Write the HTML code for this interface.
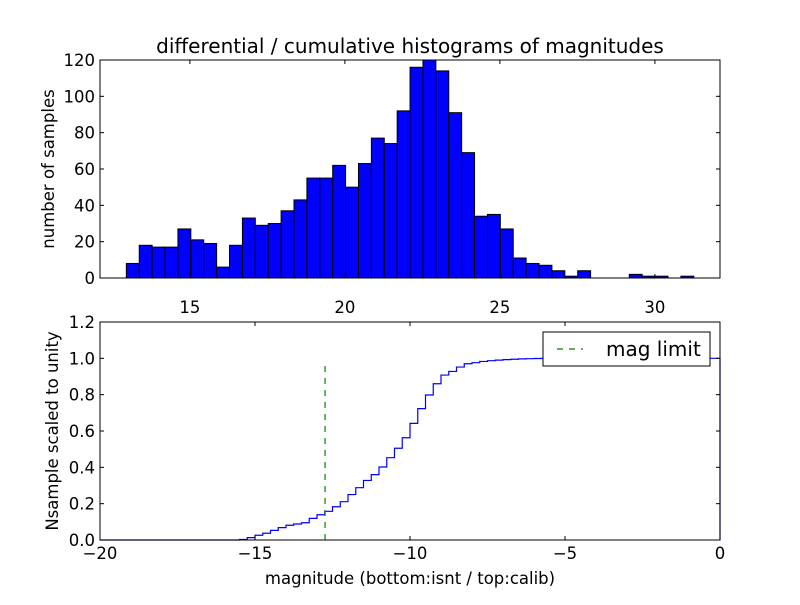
<!DOCTYPE html>
<html><head><meta charset="utf-8"><style>
body{margin:0;background:#fff;}
svg text{font-family:"DejaVu Sans","Liberation Sans",sans-serif;fill:#000;}
</style></head><body>
<svg id="c" width="800" height="600" xmlns="http://www.w3.org/2000/svg">
<rect width="800" height="600" fill="#fff"/>
</svg>
<script>
const histCounts=[8,18,17,17,27,21,19,6,18,33,29,30,37,43,55,55,62,50,63,77,74,92,116,120,114,91,69,34,35,27,11,8,7,4,1,4,0,0,0,2,1,1,0,1];
const histStart=12.95;
const histBinWidth=0.416;
const topXTicks=[15,20,25,30];
const topYTicks=[0,20,40,60,80,100,120];
const cumStart=-15.5;
const cumBinWidth=0.25;
const cumValues=[0.003,0.013,0.026,0.037,0.053,0.068,0.081,0.088,0.095,0.119,0.139,0.158,0.183,0.211,0.250,0.288,0.328,0.360,0.402,0.453,0.505,0.563,0.642,0.723,0.798,0.860,0.908,0.928,0.952,0.970,0.976,0.983,0.987,0.990,0.993,0.995,0.997,0.998,0.999,1.0];
const magLimit=-12.74;
const magLimitTop=0.97;
const botXTicks=[-20,-15,-10,-5,0];
const botYTicks=[0.0,0.2,0.4,0.6,0.8,1.0,1.2];

const NS='http://www.w3.org/2000/svg';
const svg=document.getElementById('c');
function mk(tag,attrs,parent){const e=document.createElementNS(NS,tag);for(const k in attrs)e.setAttribute(k,attrs[k]);(parent||svg).appendChild(e);return e;}
const L=100,R=720;
const tx=v=>L+(v-12.1)/(32.1-12.1)*(R-L);
const ty=v=>278-v/120*218;
const bx=v=>L+(v+20)/20*(R-L);
const by=v=>540-v/1.2*218;

const g1=mk('g',{});


histCounts.forEach((c,i)=>{
  const x0=tx(histStart+i*histBinWidth),x1=tx(histStart+(i+1)*histBinWidth);
  if(c<=0)return;
  const r=mk('rect',{x:x0,y:ty(c),width:x1-x0,height:ty(0)-ty(c),fill:'#0000ff',stroke:'#000','stroke-width':1},g1);
  
  
});
const f1=mk('rect',{x:L,y:60,width:R-L,height:218,fill:'none',stroke:'#000','stroke-width':1});


topXTicks.forEach(t=>{
  const x=tx(t);
  mk('line',{x1:x,x2:x,y1:278,y2:274,stroke:'#000'});
  mk('line',{x1:x,x2:x,y1:60,y2:64,stroke:'#000'});
  const e=mk('text',{x:x,y:313,'font-size':16.5,'text-anchor':'middle'});e.textContent=t;
  
  
});
topYTicks.forEach(t=>{
  const y=ty(t);
  mk('line',{x1:L,x2:L+4,y1:y,y2:y,stroke:'#000'});
  mk('line',{x1:R,x2:R-4,y1:y,y2:y,stroke:'#000'});
  const e=mk('text',{x:L-5,y:y+6,'font-size':16.5,'text-anchor':'end'});e.textContent=t;
  
  
});
let e=mk('text',{x:410,y:53,'font-size':20,'text-anchor':'middle'});e.textContent='differential / cumulative histograms of magnitudes';


e=mk('text',{x:0,y:0,'font-size':16.5,'text-anchor':'middle',transform:'translate(54,169) rotate(-90)'});e.textContent='number of samples';



let d='M'+bx(-20)+','+by(0)+' L'+bx(cumStart)+','+by(0);
cumValues.forEach((v,i)=>{
  const x0=bx(cumStart+i*cumBinWidth),x1=bx(cumStart+(i+1)*cumBinWidth);
  d+=' L'+x0+','+by(v)+' L'+x1+','+by(v);
});
d+=' L'+bx(0)+','+by(cumValues[cumValues.length-1])+' L'+bx(0)+','+by(0);
const p=mk('path',{d:d,fill:'none',stroke:'#0000ff','stroke-width':1.2});


const ml=mk('line',{x1:bx(magLimit),x2:bx(magLimit),y1:by(0),y2:by(magLimitTop),stroke:'#008000','stroke-width':1.2,'stroke-dasharray':'6,6'});


const f2=mk('rect',{x:L,y:322,width:R-L,height:218,fill:'none',stroke:'#000','stroke-width':1});


botXTicks.forEach(t=>{
  const x=bx(t);
  mk('line',{x1:x,x2:x,y1:540,y2:536,stroke:'#000'});
  mk('line',{x1:x,x2:x,y1:322,y2:326,stroke:'#000'});
  const e=mk('text',{x:x,y:559,'font-size':16.5,'text-anchor':'middle'});e.textContent=(t<0?'\u2212'+(-t):t);
  
  
});
botYTicks.forEach(t=>{
  const y=by(t);
  mk('line',{x1:L,x2:L+4,y1:y,y2:y,stroke:'#000'});
  mk('line',{x1:R,x2:R-4,y1:y,y2:y,stroke:'#000'});
  const e=mk('text',{x:L-5,y:y+6,'font-size':16.5,'text-anchor':'end'});e.textContent=t.toFixed(1);
  
  
});
e=mk('text',{x:410,y:584,'font-size':16.5,'text-anchor':'middle'});e.textContent='magnitude (bottom:isnt / top:calib)';


e=mk('text',{x:0,y:0,'font-size':16.5,'text-anchor':'middle',transform:'translate(58,431) rotate(-90)'});e.textContent='Nsample scaled to unity';


const lg=mk('g',{});


mk('rect',{x:543,y:332,width:167,height:34,fill:'#fff',stroke:'#000','stroke-width':1},lg);
mk('line',{x1:557,x2:583,y1:349,y2:349,stroke:'#008000','stroke-width':1.2,'stroke-dasharray':'6,6'},lg);
e=mk('text',{x:606,y:356,'font-size':20},lg);e.textContent='mag limit';


</script>
</body></html>
